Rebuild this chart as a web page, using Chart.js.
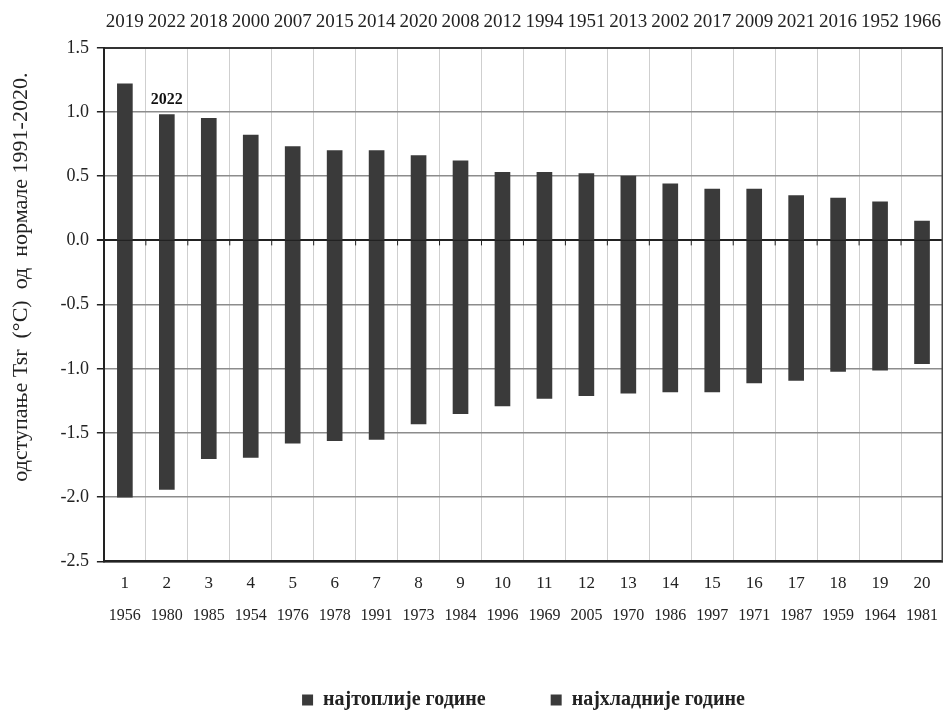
<!DOCTYPE html>
<html>
<head>
<meta charset="utf-8">
<script src="https://cdn.jsdelivr.net/npm/chart.js@4/dist/chart.umd.min.js"></script>
<style>
    html, body { margin: 0; padding: 0; background: #ffffff; }
    #wrap { width: 943px; height: 720px; }
</style>
</head>
<body>
<div id="wrap"><canvas id="chart"></canvas></div>
<script>
const ranks = ['1', '2', '3', '4', '5', '6', '7', '8', '9', '10', '11', '12', '13', '14', '15', '16', '17', '18', '19', '20'];
const warmYears = ['2019', '2022', '2018', '2000', '2007', '2015', '2014', '2020', '2008', '2012', '1994', '1951', '2013', '2002', '2017', '2009', '2021', '2016', '1952', '1966'];
const coldYears = ['1956', '1980', '1985', '1954', '1976', '1978', '1991', '1973', '1984', '1996', '1969', '2005', '1970', '1986', '1997', '1971', '1987', '1959', '1964', '1981'];
const warmValues = [1.22, 0.98, 0.95, 0.82, 0.73, 0.70, 0.70, 0.66, 0.62, 0.53, 0.53, 0.52, 0.50, 0.44, 0.40, 0.40, 0.35, 0.33, 0.30, 0.15];
const coldValues = [-2.00, -1.94, -1.70, -1.69, -1.58, -1.56, -1.55, -1.43, -1.35, -1.29, -1.23, -1.21, -1.19, -1.18, -1.18, -1.11, -1.09, -1.02, -1.01, -0.96];
const highlightYear = '2022';

const serif = '"Liberation Serif", "Times New Roman", serif';
const barColor = '#3a3a3a';
const textColor = '#222222';
// leading spaces push the rotated title a bit up, like in the original
const yTitle = '\u00a0'.repeat(10) + 'одступање Tsr  (°C)  од  нормале 1991-2020.';

const flatTicks = { maxRotation: 0, minRotation: 0, autoSkip: false };

// frame on the right + little ticks on the zero line + "2022" over its bar
const extras = {
    id: 'extras',
    afterDatasetsDraw(chart) {
        const { ctx, chartArea, scales } = chart;
        const x = scales.x, y = scales.y;
        ctx.save();
        ctx.strokeStyle = '#444';
        ctx.lineWidth = 1.5;
        ctx.beginPath();
        ctx.moveTo(chartArea.right - 0.75, chartArea.top);
        ctx.lineTo(chartArea.right - 0.75, chartArea.bottom);
        ctx.stroke();

        const zeroY = y.getPixelForValue(0);
        ctx.strokeStyle = '#222';
        ctx.lineWidth = 1;
        for (let i = 1; i < ranks.length; i++) {
            const bx = (x.getPixelForValue(i - 1) + x.getPixelForValue(i)) / 2;
            ctx.beginPath();
            ctx.moveTo(bx, zeroY);
            ctx.lineTo(bx, zeroY + 5);
            ctx.stroke();
        }

        const idx = warmYears.indexOf(highlightYear);
        if (idx >= 0) {
            ctx.fillStyle = '#111';
            ctx.font = 'bold 16px ' + serif;
            ctx.textAlign = 'center';
            ctx.textBaseline = 'bottom';
            ctx.fillText(highlightYear, x.getPixelForValue(idx), y.getPixelForValue(warmValues[idx]) - 7);
        }
        ctx.restore();
    }
};

new Chart(document.getElementById('chart').getContext('2d'), {
    type: 'bar',
    data: {
        labels: ranks,
        datasets: [
            { label: 'најтоплије године', data: warmValues, backgroundColor: barColor, barThickness: 15 },
            { label: 'најхладније године', data: coldValues, backgroundColor: barColor, barThickness: 15 },
        ],
    },
    options: {
        responsive: true,
        maintainAspectRatio: false,
        animation: false,
        layout: { padding: { top: 11, left: 8, right: 0, bottom: 0 } },
        plugins: {
            tooltip: { enabled: false },
            legend: {
                position: 'bottom',
                fullSize: false,
                labels: { color: textColor, boxWidth: 11, boxHeight: 11, padding: 65, font: { family: serif, size: 20, weight: 'bold' } },
            },
        },
        scales: {
            x: {
                stacked: true,
                offset: true,
                grid: { color: '#cfcfcf', lineWidth: 1, drawTicks: false, offset: true },
                border: { color: '#222', width: 2.5 },
                ticks: { ...flatTicks, color: textColor, padding: 12, font: { family: serif, size: 17 } },
            },
            xCold: {
                type: 'category',
                position: 'bottom',
                weight: 1,
                labels: coldYears,
                offset: true,
                grid: { display: false, drawTicks: false },
                border: { display: false },
                ticks: { ...flatTicks, color: textColor, padding: 0, font: { family: serif, size: 16 } },
            },
            xWarm: {
                type: 'category',
                position: 'top',
                labels: warmYears,
                offset: true,
                // invisible tick marks keep the gap above the plot without widening the right padding
                grid: { color: 'transparent', drawOnChartArea: false, drawTicks: true, tickLength: 14 },
                border: { color: '#333', width: 2 },
                ticks: { ...flatTicks, color: textColor, padding: 0, font: { family: serif, size: 19 } },
            },
            y: {
                min: -2.5,
                max: 1.5,
                ticks: {
                    stepSize: 0.5,
                    color: textColor,
                    padding: 8,
                    font: { family: serif, size: 18 },
                    callback: (v) => Number(v).toFixed(1),
                },
                grid: {
                    color: (c) => (c.tick && c.tick.value === 0 ? '#222' : '#8c8c8c'),
                    lineWidth: (c) => (c.tick && c.tick.value === 0 ? 2 : 1.5),
                    tickColor: '#222',
                    tickLength: 7,
                },
                border: { color: '#222', width: 2 },
                title: {
                    display: true,
                    text: yTitle,
                    color: textColor,
                    padding: { top: 0, bottom: 18 },
                    font: { family: serif, size: 22 },
                },
            },
        },
    },
    plugins: [extras],
});
</script>
</body>
</html>
